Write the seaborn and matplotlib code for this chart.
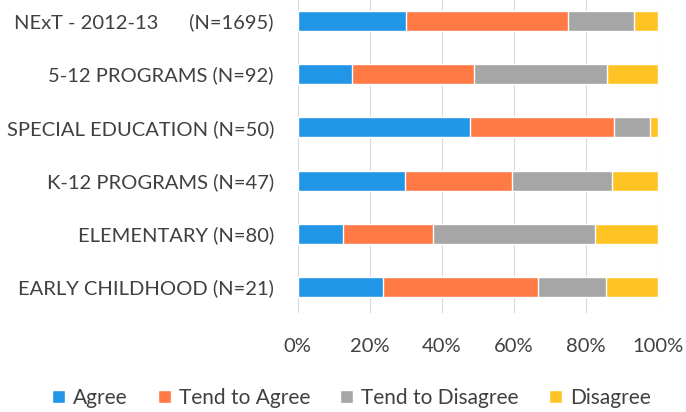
import matplotlib
matplotlib.use('Agg')
import matplotlib.pyplot as plt
import seaborn as sns
import pandas as pd
import numpy as np

# Data (percent of respondents)
groups = ['NExT - 2012-13      (N=1695)', '5-12 PROGRAMS (N=92)', 'SPECIAL EDUCATION (N=50)',
          'K-12 PROGRAMS (N=47)', 'ELEMENTARY (N=80)', 'EARLY CHILDHOOD (N=21)']
responses = ['Agree', 'Tend to Agree', 'Tend to Disagree', 'Disagree']
agree = [30.0, 15.2, 48.0, 29.8, 12.5, 23.8]
tend_agree = [45.0, 33.7, 40.0, 29.8, 25.0, 42.9]
tend_disagree = [18.3, 37.0, 10.0, 27.7, 45.0, 19.0]
disagree = [6.7, 14.1, 2.0, 12.8, 17.5, 14.3]
xticks = [0, 20, 40, 60, 80, 100]

colors = ['#2196E6', '#FF7A45', '#A6A6A6', '#FFC423']
text_color = '#404040'
fs = 14.5

sns.set_style('white')
plt.rcParams['font.family'] = ['Lato', 'DejaVu Sans']

df = pd.DataFrame({'group': groups, 'Agree': agree, 'Tend to Agree': tend_agree,
                   'Tend to Disagree': tend_disagree, 'Disagree': disagree})
cum = df[responses].cumsum(axis=1)

fig = plt.figure(figsize=(6.86, 4.12), dpi=100)
ax = fig.add_axes([297.5 / 686, (412 - 313) / 412, 360.2 / 686, 313 / 412])

# draw cumulative totals from the outside in so each layer shows its own segment
for resp, col in reversed(list(zip(responses, colors))):
    sns.barplot(x=cum[resp], y=df['group'], orient='h', color=col, width=0.376,
                saturation=1, ax=ax, label=resp, zorder=3)

ax.set_xlim(0, 100)
ax.set_ylim(5.49, -0.395)
ax.set_xticks(xticks)
ax.set_xticklabels([f'{t}%' for t in xticks])
ax.grid(axis='x', color='#D9D9D9', linewidth=0.8, zorder=0)
ax.grid(axis='y', visible=False)
for s in ax.spines.values():
    s.set_visible(False)
ax.set_xlabel('')
ax.set_ylabel('')
ax.tick_params(axis='x', length=0, pad=18, labelsize=fs, labelcolor=text_color)
ax.tick_params(axis='y', length=0, pad=17, labelsize=fs, labelcolor=text_color)

handles, labels = ax.get_legend_handles_labels()
order = [labels.index(r) for r in responses]
leg = ax.legend([handles[i] for i in order], responses, ncol=4, loc='center',
                bbox_to_anchor=(351.5 / 686, 1 - 398 / 412), bbox_transform=fig.transFigure,
                frameon=False, fontsize=15, handlelength=0.6, handleheight=0.6,
                handletextpad=0.4, columnspacing=1.45, labelcolor=text_color)

fig.savefig('out.png', dpi=100)
